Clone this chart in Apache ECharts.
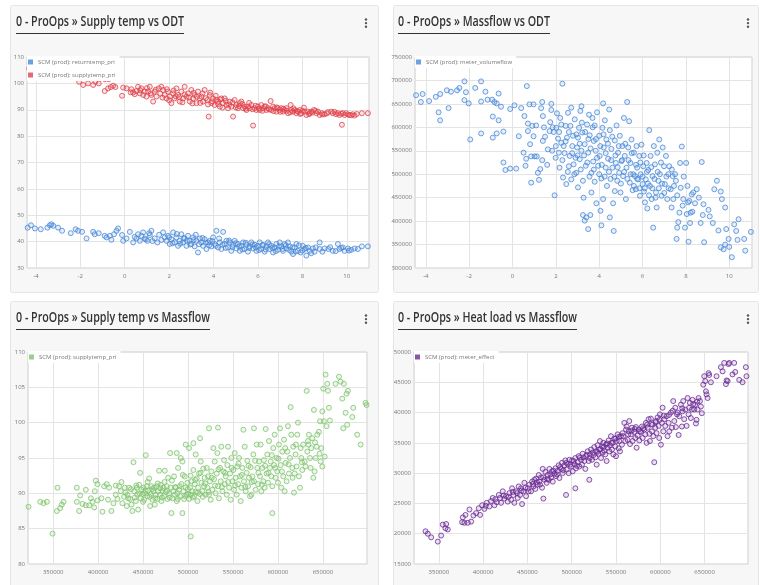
<!DOCTYPE html>
<html><head><meta charset="utf-8">
<script src="https://cdn.jsdelivr.net/npm/echarts@6/dist/echarts.min.js"></script>
<style>html,body{margin:0;padding:0;background:#fff}#c{width:760px;height:585px}</style>
</head><body><div id="c"></div>
<script>
// ---------- DATA ----------
const panelTitles = [
  '0 - ProOps \u00bb Supply temp vs ODT',
  '0 - ProOps \u00bb Massflow vs ODT',
  '0 - ProOps \u00bb Supply temp vs Massflow',
  '0 - ProOps \u00bb Heat load vs Massflow'
];
const nameReturn = 'SCM (prod): returntemp_pri';
const nameSupply = 'SCM (prod): supplytemp_pri';
const nameFlow = 'SCM (prod): meter_volumeflow';
const nameEffect = 'SCM (prod): meter_effect';

// Panel 1: [ODT, returntemp]
const returnVsOdt = [[-4.37,45.3],[-4.22,46.2],[-4.04,45],[-3.78,44.7],[-3.48,45.3],[-3.37,46.2],[-3.3,46.6],[-3.22,46],[-3.0,45.3],[-2.82,44.1],[-2.43,43.2],[-2.21,44.7],[-2.1,44.1],[-1.92,43.7],[-1.72,41.2],[-1.42,43.7],[-1.35,42.8],[-1.17,43.2],[-0.9,42.2],[-0.82,41.6],[-0.67,42.2],[-0.6,40.7],[-0.48,42.8],[-0.37,44.1],[-0.3,45],[-0.12,42.5],[-0.07,40.3],[0.08,41.2],[0.23,43.7],[0.38,39.7],[0.53,41.2],[0.6,42.8],[0.68,40.3],[0.75,42.2],[0.83,43.5],[0.9,41.2],[1.02,40.3],[1.13,42.5],[1.2,44.1],[1.35,41.2],[1.47,39.7],[1.73,43.5],[1.8,41.6],[1.88,40.3],[1.95,42.2],[2.03,39.1],[2.1,40.9],[2.18,43.5],[2.25,39.7],[2.33,41.6],[2.4,38.4],[2.48,40.3],[2.55,42.8],[2.63,39.7],[2.7,41.2],[2.78,38.4],[2.85,42.2],[2.93,40.3],[3.0,39.1],[3.08,41.6],[3.15,38.2],[3.23,40.3],[3.3,35.9],[3.38,41.2],[3.45,39.7],[3.53,38.4],[3.6,40.9],[3.68,37.2],[3.75,39.7],[3.83,40.3],[3.9,38.2],[3.98,41.6],[4.05,39.1],[4.13,44.1],[4.2,37.8],[4.28,39.7],[4.35,37.2],[4.43,43.7],[4.5,39.1],[4.58,40.3],[4.65,37.8],[4.73,39.7],[4.8,36.5],[4.88,38.8],[4.95,40.3],[5.03,37.4],[5.1,39.1],[5.18,36.5],[5.25,38.4],[5.33,39.7],[5.4,37.2],[5.48,38.8],[5.55,36.2],[5.63,38.2],[5.7,39.7],[5.78,37.4],[5.85,38.8],[5.93,36.5],[6.0,38.4],[6.08,39.7],[6.15,37.2],[6.23,38.8],[6.3,36.2],[6.38,38.2],[6.45,39.7],[6.53,37.2],[6.6,38.4],[6.68,35.9],[6.75,37.8],[6.83,39.1],[6.9,36.9],[6.98,39.7],[7.05,38.2],[7.13,36.5],[7.2,39.1],[7.28,37.4],[7.35,39.7],[7.43,38.2],[7.5,36.2],[7.58,35.3],[7.65,37.8],[7.73,39.1],[7.8,36.5],[7.92,35.9],[8.02,38.4],[8.1,37.2],[8.18,34.7],[8.25,37.8],[8.33,36.5],[8.47,37.4],[8.55,36.2],[8.78,39.7],[8.78,37.2],[9.0,37.4],[9.17,37.2],[9.37,36.5],[9.6,39.1],[9.67,37.2],[9.82,37.8],[9.9,36.5],[10.05,37.4],[10.2,36.9],[10.35,37.4],[10.68,38.2],[10.95,38.2],
[0.45,41.8],[0.95,40.8],[1.1,43.2],[1.25,40.2],[1.55,42.6],[1.65,40.6],[2.0,41.6],[2.15,39.4],[2.35,42.9],[2.5,39.2],[2.65,41.3],[2.8,40.4],[2.95,38.9],[3.1,40.6],[3.2,42.6],[3.35,39],[3.5,41.4],[3.65,39.6],[3.8,38.6],[3.95,40.2],[4.1,38.4],[4.25,41.2],[4.4,38.8],[4.55,37.6],[4.7,40.4],[4.85,37.9],[5.0,39.4],[5.15,38.2],[5.3,37],[5.45,39.6],[5.6,37.6],[5.75,38.9],[5.9,37.8],[6.05,36.8],[6.2,38.6],[6.35,37],[6.5,39],[6.65,37.6],[6.8,36.4],[6.95,38.2],[7.1,37.2],[7.25,38.6],[7.4,36.9],[7.55,37.8],[7.7,36.2],[7.85,38.6],[8.0,36.6],[8.15,37.6],[8.4,35.6],[8.6,37.8],[8.9,36.2],[9.25,37.9],[9.5,36.4],[9.75,37.6],[10.1,36.6],[10.5,37.2]];

// Panel 1: [ODT, supplytemp]
const supplyVsOdt = [[-4.3,105.6],[-4.0,104.9],[-3.7,106.1],[-3.4,105.2],[-3.1,104.4],[-2.8,104.8],[-2.6,103.6],[-2.4,102.9],[-2.2,103.4],[-2.05,100.6],[-1.87,99.4],[-1.65,100],[-1.42,99.4],[-1.32,100.6],[-1.17,100],[-1.08,101.9],[-0.9,101.6],[-0.72,101.6],[-0.9,97.1],[-0.75,98.1],[-0.63,98.6],[-0.52,99.1],[-0.42,98.6],[-0.12,95.3],[-0.07,98.4],[0.08,98.1],[0.27,96.6],[0.38,96.6],[0.53,97.1],[0.6,98.7],[0.68,96.2],[0.75,98.1],[0.83,95.6],[0.9,96.9],[0.98,95],[1.05,96.9],[1.13,98.7],[1.17,96.2],[1.28,93.1],[1.35,96.9],[1.43,95],[1.53,98.1],[1.65,98.7],[1.73,97.5],[1.8,95.6],[1.88,94.3],[1.95,96.9],[2.03,95],[2.1,92.5],[2.18,96.2],[2.25,94.3],[2.33,98.1],[2.4,95.6],[2.48,93.1],[2.55,96.9],[2.63,94.3],[2.7,98.7],[2.78,95],[2.85,96.2],[2.93,93.1],[3.0,97.5],[3.08,94.3],[3.15,95.6],[3.23,92.5],[3.3,96.9],[3.38,94.3],[3.45,95],[3.53,93.1],[3.6,97.5],[3.72,93.7],[3.78,87.4],[3.83,95.6],[3.9,92.5],[3.98,94.3],[4.05,91.8],[4.13,93.7],[4.2,93.1],[4.28,91.2],[4.35,94.3],[4.43,92.5],[4.5,94.3],[4.58,91.8],[4.65,90.6],[4.73,93.1],[4.8,91.2],[4.88,87.4],[4.95,93.7],[5.03,91.8],[5.1,90.6],[5.18,92.5],[5.25,93.1],[5.33,90.6],[5.4,91.2],[5.48,89.9],[5.55,91.2],[5.63,90.6],[5.78,84],[5.7,91.8],[5.85,90.6],[5.93,89.9],[6.0,91.2],[6.08,89.9],[6.15,91.8],[6.23,90.6],[6.3,91.2],[6.38,89.9],[6.45,90.6],[6.57,93.3],[6.6,89.9],[6.68,91.2],[6.75,90.6],[6.83,89.3],[6.9,90.6],[6.98,89.9],[7.05,90.6],[7.13,89.3],[7.2,89.9],[7.28,90.6],[7.35,88.7],[7.47,91.8],[7.5,89.9],[7.58,89.3],[7.65,89.9],[7.73,88.7],[7.8,89.3],[7.88,89.9],[7.95,88.7],[8.07,90.8],[8.1,89.3],[8.18,88],[8.25,89.3],[8.33,88.7],[8.4,89.3],[8.52,89.9],[8.63,88.7],[8.7,89.3],[8.78,88],[8.88,88.7],[9.0,88.3],[9.15,89.1],[9.3,89.3],[9.37,88.7],[9.52,88.3],[9.6,88.7],[9.67,88],[9.78,84.3],[9.82,88.7],[9.9,88],[9.97,88.7],[10.12,88],[10.27,88.3],[10.35,87.8],[10.68,88.7],[10.95,88.7],
[0.3,97.8],[0.45,95.9],[0.7,97.4],[1.0,98.2],[1.2,95.6],[1.4,97.6],[1.6,96.1],[1.7,94.6],[1.9,97.8],[2.0,93.6],[2.2,97.3],[2.3,95.1],[2.45,94.8],[2.6,92.8],[2.7,95.8],[2.9,94.6],[3.05,92.4],[3.1,96.4],[3.25,94.9],[3.4,92.6],[3.5,96.2],[3.65,94.4],[3.75,92],[3.85,96.5],[3.95,93.2],[4.1,95.3],[4.2,92.2],[4.3,93.9],[4.4,90.8],[4.55,93.4],[4.7,91.9],[4.85,92.8],[5.0,90.9],[5.15,91.4],[5.3,92.2],[5.45,90.4],[5.6,92.6],[5.75,90.2],[5.9,91.5],[6.05,90.4],[6.2,89.6],[6.35,91.3],[6.5,90.1],[6.7,89.5],[6.85,90.9],[7.0,89.2],[7.15,90.4],[7.3,89.6],[7.45,89],[7.6,90.5],[7.75,89.6],[7.9,88.4],[8.0,89.6],[8.3,88.3],[8.45,88.9],[8.6,89.6],[8.9,88.2],[9.1,88.6],[9.45,89.2],[9.75,88.5],[10.05,88.2],[10.2,87.9],[10.45,88.4]];

// Panel 2: [ODT, volumeflow]
const flowVsOdt = [[-4.45,668500],[-4.15,671000],[-4.23,654000],[-3.85,656000],[-3.54,665000],[-3.41,632000],[-3.34,615000],[-3.34,671000],[-3.03,679000],[-2.95,641000],[-2.84,676000],[-2.56,679000],[-2.45,684000],[-2.22,698000],[-2.22,658000],[-2.15,675000],[-2.02,651000],[-1.95,574000],[-1.72,684000],[-1.45,698000],[-1.45,655000],[-1.45,587000],[-1.25,676000],[-1.15,659000],[-0.94,659000],[-0.91,623000],[-0.91,578000],[-0.84,654000],[-0.73,651000],[-0.73,587000],[-0.64,672000],[-0.64,615000],[-0.53,644000],[-0.42,591000],[-0.42,525000],[-0.33,509000],[-0.11,512000],[-0.11,639000],[0.09,647000],[0.17,512000],[0.29,581000],[0.4,641000],[0.51,546000],[0.55,624000],[0.6,518000],[0.63,533000],[0.66,688000],[0.71,608000],[0.71,592000],[0.78,649000],[0.81,564000],[0.86,482000],[0.86,538000],[0.91,603000],[0.97,649000],[0.97,581000],[1.02,538000],[1.09,604000],[1.12,538000],[1.17,503000],[1.22,488000],[1.28,511000],[1.32,641000],[1.37,530000],[1.37,654000],[1.4,624000],[1.4,571000],[1.45,600000],[1.63,553000],[1.71,592000],[1.74,611000],[1.79,650000],[1.79,637000],[1.83,550000],[1.9,590000],[1.94,455000],[1.99,535000],[2.02,599000],[2.05,630000],[2.1,576000],[2.14,546000],[2.17,514000],[2.2,620000],[2.25,606000],[2.25,567000],[2.3,693000],[2.33,493000],[2.36,560000],[2.4,545000],[2.45,603000],[2.48,479000],[2.51,578000],[2.56,631000],[2.6,517000],[2.64,539000],[2.67,603000],[2.71,642000],[2.71,489000],[2.76,560000],[2.79,582000],[2.82,521000],[2.87,617000],[2.91,535000],[2.94,503000],[2.98,557000],[3.02,578000],[3.02,472000],[3.07,599000],[3.1,532000],[3.13,635000],[3.18,550000],[3.18,645000],[3.22,589000],[3.25,486000],[3.25,413000],[3.28,450000],[3.33,564000],[3.33,401000],[3.38,518000],[3.41,408000],[3.44,606000],[3.49,546000],[3.49,383000],[3.53,627000],[3.56,583000],[3.59,413000],[3.64,503000],[3.64,461000],[3.69,620000],[3.72,527000],[3.75,571000],[3.79,484000],[3.79,604000],[3.84,550000],[3.87,438000],[3.9,632000],[3.95,518000],[4.0,582000],[4.02,539000],[4.06,422000],[4.1,491000],[4.1,391000],[4.15,599000],[4.18,651000],[4.18,447000],[4.21,557000],[4.26,615000],[4.3,514000],[4.33,574000],[4.36,475000],[4.41,533000],[4.46,638000],[4.49,408000],[4.49,594000],[4.52,490000],[4.56,554000],[4.61,514000],[4.64,438000],[4.67,379000],[4.72,572000],[4.72,464000],[4.77,524000],[4.8,604000],[4.83,486000],[4.87,546000],[4.92,503000],[4.95,582000],[4.98,461000],[5.03,528000],[5.07,560000],[5.1,496000],[5.14,620000],[5.18,539000],[5.23,447000],[5.26,514000],[5.29,654000],[5.34,557000],[5.38,613000],[5.41,482000],[5.44,524000],[5.49,574000],[5.54,466000],[5.57,500000],[5.6,546000],[5.65,496000],[5.69,468000],[5.72,560000],[5.75,514000],[5.8,489000],[5.85,539000],[5.88,454000],[5.91,500000],[5.95,563000],[6.0,479000],[6.03,517000],[6.06,463000],[6.11,440000],[6.15,489000],[6.19,524000],[6.22,427000],[6.26,509000],[6.31,594000],[6.34,475000],[6.37,539000],[6.42,447000],[6.46,496000],[6.49,386000],[6.52,560000],[6.57,521000],[6.62,461000],[6.65,429000],[6.68,546000],[6.73,486000],[6.77,574000],[6.8,500000],[6.88,454000],[6.93,557000],[6.99,517000],[7.03,479000],[7.08,539000],[7.14,447000],[7.19,500000],[7.23,517000],[7.3,468000],[7.34,429000],[7.39,496000],[7.42,447000],[7.5,500000],[7.54,486000],[7.57,362000],[7.6,386000],[7.65,398000],[7.7,418000],[7.73,524000],[7.76,471000],[7.81,559000],[7.85,433000],[7.88,447000],[7.96,386000],[8.01,524000],[8.04,415000],[8.07,475000],[8.12,356000],[8.16,443000],[8.19,396000],[8.22,418000],[8.27,457000],[8.34,461000],[8.42,438000],[8.5,468000],[8.68,396000],[8.73,526000],[8.78,413000],[8.81,436000],[8.84,355000],[9.04,424000],[9.24,396000],[9.31,468000],[9.43,486000],[9.61,463000],[9.61,344000],[9.66,447000],[9.74,340000],[9.81,350000],[9.81,429000],[9.86,383000],[9.97,362000],[10.12,323000],[10.23,393000],[10.32,379000],[10.38,360000],[10.43,404000],[10.69,362000],[10.74,337000],[11.0,377000],
[1.5,580000],[1.6,520000],[1.85,600000],[2.0,560000],[2.15,590000],[2.3,530000],[2.45,570000],[2.55,505000],[2.6,590000],[2.75,545000],[2.85,500000],[2.95,585000],[3.0,540000],[3.1,565000],[3.15,510000],[3.2,610000],[3.3,540000],[3.35,590000],[3.45,525000],[3.5,575000],[3.55,495000],[3.6,555000],[3.7,600000],[3.75,510000],[3.85,575000],[3.9,535000],[4.0,500000],[4.05,560000],[4.12,520000],[4.2,585000],[4.25,495000],[4.3,545000],[4.4,565000],[4.45,505000],[4.55,530000],[4.6,580000],[4.7,495000],[4.75,540000],[4.85,515000],[4.9,560000],[5.0,480000],[5.05,530000],[5.15,505000],[5.2,565000],[5.3,490000],[5.35,530000],[5.45,500000],[5.5,545000],[5.6,475000],[5.7,520000],[5.75,490000],[5.85,470000],[5.9,525000],[6.0,495000],[6.05,540000],[6.1,470000],[6.2,505000],[6.25,480000],[6.3,455000],[6.4,515000],[6.45,470000],[6.55,490000],[6.6,450000],[6.7,505000],[6.75,470000],[6.85,525000],[6.9,480000],[7.0,460000],[7.1,495000],[7.2,470000],[7.35,510000],[7.45,475000],[7.6,455000],[7.9,495000],[8.1,440000],[8.3,420000],[8.6,450000],[9.1,410000],[9.5,380000],[10.0,345000]];

// Panel 3: [volumeflow, supplytemp]
const supplyVsFlow = [[322600,88.1],[335600,88.8],[339300,88.6],[343000,88.8],[349300,84.3],[354100,87.5],[354800,90.8],[357800,87.9],[359600,88.4],[361500,88.8],[376300,90.8],[376300,88.8],[378900,87.5],[380000,89.7],[382600,88.5],[386300,90.5],[386300,88.3],[390000,88.3],[391900,89.3],[393700,88.8],[395600,88.0],[396300,90.3],[397400,91.8],[399300,91.3],[399300,89.0],[403700,89.3],[404800,87.4],[406700,91.0],[409600,91.3],[411100,89.1],[412200,90.8],[414800,87.5],[417000,88.6],[419600,89.8],[419600,91.1],[421500,89.2],[423300,91.0],[425200,90.3],[425900,91.6],[427000,88.6],[428900,89.5],[429600,90.8],[431900,88.2],[432600,89.8],[434400,90.8],[435600,89.2],[437000,88.4],[438100,87.5],[439300,94.4],[440000,90.3],[441900,88.9],[443000,90.8],[443700,89.8],[444500,87.7],[445600,91.2],[446700,92.9],[447400,89.3],[448200,90.5],[449300,89.9],[450400,90.8],[451100,89.1],[451900,90.0],[453000,95.4],[454100,91.0],[454800,89.6],[455600,90.4],[456700,92.1],[457800,88.2],[458500,89.9],[459300,91.0],[460400,89.1],[461500,90.3],[462200,90.8],[463000,88.4],[464100,89.8],[465200,91.0],[465900,89.2],[466700,90.3],[467800,93.2],[468900,89.8],[469600,91.2],[470400,88.9],[471500,90.4],[472600,90.8],[473300,89.6],[474100,93.2],[475200,90.2],[476300,91.0],[477000,89.2],[477800,92.2],[478900,90.0],[480000,95.7],[480700,90.8],[481500,87.2],[482600,89.3],[483700,90.3],[484400,92.4],[485200,89.8],[486300,90.8],[487400,95.7],[487400,88.9],[488100,90.0],[488900,93.6],[490000,90.5],[491100,89.6],[491900,95.0],[492600,91.3],[493700,94.5],[493700,87.2],[494800,90.3],[495600,89.2],[496300,92.4],[497400,90.8],[497400,96.9],[498500,89.8],[499300,91.5],[500000,89.9],[501100,89.2],[501100,96.4],[502200,90.8],[503000,83.9],[503000,89.8],[503700,91.7],[504800,90.3],[505900,97.1],[505900,93.3],[506700,89.6],[507400,91.3],[508500,90.2],[508500,95.5],[509600,92.1],[510400,88.9],[511100,90.8],[512200,92.8],[513300,97.8],[513300,89.9],[514100,94.5],[514800,91.5],[515900,90.3],[517000,93.5],[517800,91.0],[518500,92.2],[519600,89.8],[520700,93.6],[521500,90.8],[522200,92.4],[523300,99.2],[523300,89.8],[524400,91.7],[525200,89.1],[525900,93.1],[527000,90.5],[528100,96.4],[528900,92.0],[529600,94.5],[530700,90.0],[531900,92.8],[532600,95.7],[533300,99.3],[533300,91.0],[534400,89.3],[535600,93.6],[536300,91.7],[537000,96.6],[538200,90.3],[539300,93.1],[540000,94.7],[540700,91.3],[541900,92.4],[543000,89.8],[543700,94.0],[544500,96.6],[545600,90.8],[546700,92.8],[547400,89.1],[548200,95.0],[549300,91.7],[550400,93.3],[551100,90.5],[551900,95.7],[553000,92.2],[554100,89.8],[554800,93.8],[555600,91.3],[556700,95.0],[557800,92.4],[558500,88.9],[559300,90.8],[560400,93.6],[561500,99.0],[562200,91.7],[563000,96.6],[564100,90.3],[565200,92.9],[565900,94.6],[566700,91.0],[567800,92.2],[568900,89.6],[569600,93.7],[570400,89.8],[571500,92.4],[572600,95.5],[573300,99.2],[573300,91.7],[575200,90.5],[576300,96.9],[577000,93.6],[577800,91.3],[578900,94.5],[580000,92.4],[580700,96.9],[581500,90.3],[582600,93.6],[583700,91.7],[584400,94.7],[585200,90.8],[586300,99.1],[587400,92.8],[588100,95.5],[588900,91.5],[590000,97.4],[591100,93.6],[591900,94.5],[592600,92.4],[593700,87.2],[593700,91.0],[594800,96.4],[595600,94.0],[596300,98.3],[597400,92.2],[598500,95.0],[599300,93.1],[600000,91.5],[601100,96.9],[602200,99.2],[603000,94.0],[603700,90.8],[604800,95.9],[605900,92.4],[606700,97.6],[607400,90.3],[608500,94.3],[609600,91.7],[610400,95.9],[611100,99.5],[612200,92.8],[613300,95.0],[614100,102.2],[614800,98.3],[615900,93.6],[617000,96.6],[617800,90.1],[618500,92.8],[619600,95.5],[620700,93.8],[621500,98.3],[622200,100.0],[623300,92.4],[624400,90.8],[625200,96.4],[625900,95.0],[627000,93.3],[628100,96.9],[629600,94.5],[630700,93.8],[631900,104.5],[632600,95.9],[633300,97.4],[634400,98.3],[635600,95.0],[636300,93.6],[637000,96.4],[638100,97.8],[639300,92.2],[640000,101.8],[640700,93.1],[641900,95.0],[643000,96.6],[643700,98.3],[645600,98.7],[646700,100.2],[647400,94.5],[648100,96.4],[649300,101.6],[649300,93.8],[650400,104.8],[651100,100.2],[651900,95.2],[652900,106.8],[654100,99.5],[654800,105.5],[655600,104.5],[656700,102.1],[657800,100.3],[664000,105.5],[667800,106.5],[669600,105.8],[671500,103.4],[672600,99.2],[673300,105.5],[675200,101.4],[676300,104.1],[677000,99.7],[677800,104.5],[682600,100.8],[683700,102.1],[688100,98.3],[691900,96.9],[697400,102.8],[698500,102.5],
[430500,90.1],[433500,89.3],[436500,90.6],[440800,89.4],[442400,91.1],[446000,90.0],[449900,88.8],[452800,90.4],[455000,91.6],[457300,89.5],[460000,90.6],[463600,89.3],[466300,91.4],[469000,90.7],[471000,89.4],[473800,91.6],[476800,90.4],[479500,89.4],[482000,91.8],[485800,90.9],[488600,89.2],[490800,91.0],[494200,92.6],[496900,89.6],[499800,90.6],[502800,92.5],[505300,89.4],[508000,91.9],[510800,90.1],[513800,92.9],[516400,89.5],[519000,91.4],[522800,90.2],[526300,92.2],[530000,91.1],[533800,93.4],[537600,90.9],[541200,92.9],[544800,91.6],[548600,93.6],[552400,91.1],[556100,94.2],[559800,92.6],[563600,90.9],[567200,93.9],[571000,91.6],[574600,94.6],[578200,92.9],[582000,91.2],[585700,93.9],[589400,92.9],[593100,95.4],[597000,93.6],[600600,94.9],[604400,93.1],[608000,96.4],[611800,94.1],[616200,92.2],[620000,96.9],[626600,94.4],[633800,96.9],[641200,97.2],[646200,95.6]];

// Panel 4: [volumeflow, meter_effect]
const heatVsFlow = [[321800,18900],[335000,20400],[337600,20000],[341400,19400],[348900,18700],[352600,19700],[354500,21500],[357500,20900],[358300,21600],[360100,20700],[376300,21900],[377100,22700],[378900,21800],[380100,23100],[382700,21800],[384600,24000],[386500,22000],[389100,23000],[392100,23400],[395100,24200],[396600,23100],[398900,24700],[401500,24100],[404100,25100],[407100,24500],[410900,25900],[412800,24700],[415400,25200],[417700,26400],[420300,25100],[422200,27000],[424100,25800],[425900,26200],[427800,25300],[429700,26700],[431600,25600],[432700,27500],[434200,26400],[435300,25100],[437200,27000],[439100,25900],[440200,27800],[441700,26400],[442800,27500],[444000,24900],[445500,27000],[446600,28400],[448500,26200],[450400,27500],[452200,28100],[454100,27000],[455300,28600],[456800,27800],[457900,28900],[459000,27400],[459800,29100],[461600,28100],[462800,29700],[463500,28600],[465400,29300],[466500,27600],[467300,30700],[468000,25800],[469200,28900],[470300,30200],[471800,28400],[473000,29700],[474100,28900],[474800,30700],[476700,29300],[477800,30300],[478600,28600],[480400,29900],[481600,30800],[482300,29500],[484200,30400],[485300,31300],[486100,29200],[488000,30700],[489100,31700],[489800,30000],[491700,31300],[492800,32100],[493600,26400],[494300,30600],[495500,31500],[496600,30000],[497400,32200],[499200,31100],[500400,32100],[501100,30300],[503000,31500],[504100,27500],[504100,32500],[504900,30800],[506800,31800],[507900,32800],[508600,31100],[510500,32200],[511600,31400],[512400,33200],[514300,32000],[515400,30700],[516200,32800],[518000,33600],[519200,32000],[519900,28900],[520700,33100],[521800,33900],[522900,32200],[523700,33400],[525500,34300],[526700,32600],[527400,33600],[528200,31400],[529300,34600],[530400,33200],[531200,33900],[531900,35300],[533100,32500],[534200,34400],[534900,33400],[535700,35000],[536800,33700],[537900,33100],[538700,34700],[539400,32000],[540600,34200],[541700,35400],[542500,33600],[543200,34600],[544300,36100],[545500,33900],[546200,35000],[547000,33100],[548100,35700],[549200,34400],[550000,32800],[550700,35300],[551800,36400],[553000,34100],[553700,35300],[554500,33600],[555600,36100],[556700,34700],[557500,36600],[559400,38300],[560500,35300],[561300,37200],[562000,37700],[563100,35500],[564300,36900],[565000,38600],[565800,34800],[566900,36400],[568000,37500],[568800,35300],[570600,36800],[571800,35800],[572500,37600],[573300,34200],[574400,36200],[575500,37200],[576300,35400],[578200,36800],[579300,37700],[580100,35800],[581900,37200],[583100,36400],[583800,38300],[584600,35000],[585700,37500],[586800,38900],[587600,36500],[588300,35300],[589400,39000],[590600,36900],[591300,38000],[592100,36100],[593200,31800],[594300,37500],[595100,38600],[595800,36600],[597000,39200],[598100,37800],[598800,35800],[599600,39700],[600700,34700],[601800,38300],[602600,40800],[603400,36900],[604500,38900],[605600,37800],[607100,39400],[608200,36100],[609400,38300],[610100,36900],[612000,40000],[613100,37500],[614600,41900],[615800,38600],[616900,40800],[617600,37600],[619500,40000],[620700,36300],[621400,39400],[623300,41300],[624400,37700],[625200,40200],[625900,41900],[627000,38900],[628200,40500],[629700,37800],[630800,42400],[631900,39700],[633400,41600],[634500,39100],[635700,40500],[636400,42100],[638300,40500],[639400,41300],[640200,38200],[640900,38800],[642100,40500],[643200,42400],[644700,41900],[645800,41000],[646900,39900],[648500,44600],[649600,46000],[650700,45200],[651500,43500],[652200,43000],[653400,42400],[654500,46500],[655200,46200],[657100,45000],[663500,46000],[668400,47500],[670300,46800],[672200,48200],[674100,44700],[674800,45300],[676000,45200],[677100,48000],[677800,48200],[681500,46300],[683400,48200],[684600,46700],[689100,45400],[692800,45000],[696600,47500],[697300,46000],
[403000,24600],[409000,25400],[414000,25700],[419000,25900],[423000,26300],[428700,26100],[433500,26900],[438200,26700],[443300,27100],[447600,27600],[451300,27000],[456000,28200],[460700,28500],[464300,28100],[467900,29300],[472500,29000],[476000,29800],[479500,30400],[483300,29800],[487000,31000],[490500,30500],[493900,31700],[498300,31400],[502200,32000],[505900,31200],[509500,32600],[513300,32600],[517100,33000],[520300,32500],[524700,33000],[528900,33500],[532400,34000],[536100,34300],[539900,34900],[544800,35000],[549500,35700],[553400,36000],[558000,36100],[563800,36400],[567500,37000],[571100,37300],[576900,36900],[580600,37400],[585100,38000],[589900,38100],[594800,38400],[599200,38800],[604000,39500],[609800,39600],[614000,40300],[618800,39700],[624800,40700],[632600,40800],[637100,41400],[641600,41800]];

// ---------- LAYOUT / STYLE ----------
const COL = {
  blue:   ['#4a8ad8','rgba(74,138,216,0.18)'],
  red:    ['#e0444e','rgba(224,68,78,0.18)'],
  green:  ['#80c46e','rgba(128,196,110,0.18)'],
  purple: ['#6b2c95','rgba(107,44,149,0.18)']
};
const gridBoxes = [
  {left:27, top:57, width:342, height:211},
  {left:415, top:57, width:337, height:211},
  {left:28, top:352, width:339, height:212},
  {left:414, top:352, width:334, height:212}
];
const cards = [
  {x:10, y:5, w:368, h:287},
  {x:393, y:5, w:365, h:287},
  {x:10, y:301, w:368, h:292},
  {x:393, y:301, w:365, h:292}
];
const titlePos = [[16,15,168],[398,15,152],[16,311,194],[398,311,179]];
const dotX = [366, 748, 366, 748];
const FONT = "'Open Sans', 'Liberation Sans', sans-serif";

const lbl = {fontSize:6, color:'#777', fontFamily:FONT, formatter:function(v){ return String(v); }};
function xAx(i, min, max) {
  return {gridIndex:i, type:'value', min:min, max:max, splitNumber:8,
    axisLine:{show:false}, axisTick:{show:false},
    axisLabel:Object.assign({margin:5, showMinLabel:false, showMaxLabel:false}, lbl),
    splitLine:{show:true, lineStyle:{color:'#e4e4e4', width:1}}};
}
function yAx(i, min, max, interval) {
  return {gridIndex:i, type:'value', min:min, max:max, interval:interval,
    axisLine:{show:false}, axisTick:{show:false},
    axisLabel:Object.assign({margin:3}, lbl),
    splitLine:{show:true, lineStyle:{color:'#e4e4e4', width:1}}};
}
function sc(name, i, data, c) {
  return {type:'scatter', name:name, xAxisIndex:i, yAxisIndex:i, data:data,
    symbol:'circle', symbolSize:5, silent:true,
    itemStyle:{color:c[1], borderColor:c[0], borderWidth:1}};
}
function lg(left, top, items) {
  return {left:left, top:top, orient:'vertical', icon:'rect', itemWidth:5, itemHeight:5,
    itemGap:7, padding:[3,4,3,1], backgroundColor:'#fff', selectedMode:false, z:10,
    textStyle:{fontSize:6, color:'#777', fontFamily:FONT},
    data: items.map(function(it){ return {name:it[0], itemStyle:{color:it[1], borderWidth:0}}; })};
}

// measure titles
const mctx = document.createElement('canvas').getContext('2d');
const TFONT = "600 14px 'Open Sans'";
mctx.font = TFONT;

const graphics = [];
cards.forEach(function(c){
  graphics.push({type:'rect', z:-100, silent:true, shape:{x:c.x+0.5, y:c.y+0.5, width:c.w, height:c.h, r:2},
    style:{fill:'#f7f7f7', stroke:'#e5e5e5', lineWidth:1}});
});
panelTitles.forEach(function(t, i){
  const p = titlePos[i];
  const w = mctx.measureText(t).width || p[2];
  const s = p[2] / w;
  graphics.push({type:'text', x:p[0], y:p[1], scaleX:s, z:100, silent:true,
    style:{text:t, fontFamily:"'Open Sans'", fontWeight:600, fontSize:14, fill:'#333', verticalAlign:'top', align:'left'}});
  graphics.push({type:'line', z:100, silent:true, shape:{x1:p[0], y1:p[1]+18.5, x2:p[0]+p[2], y2:p[1]+18.5},
    style:{stroke:'#333', lineWidth:1}});
  [0,3.6,7.2].forEach(function(d){
    graphics.push({type:'circle', z:100, silent:true, shape:{cx:dotX[i], cy:p[1]+4.5+d, r:1.2}, style:{fill:'#555'}});
  });
});

const chart = echarts.init(document.getElementById('c'), null, {renderer:'canvas'});
chart.setOption({
  animation:false,
  backgroundColor:'#fff',
  graphic:{elements:graphics},
  grid: gridBoxes.map(function(g){ return Object.assign({show:true, backgroundColor:'#fff', borderColor:'#cfcfcf', borderWidth:1, containLabel:false}, g); }),
  xAxis:[xAx(0,-4.4,11), xAx(1,-4.5,11.05), xAx(2,322000,699000), xAx(3,322000,699000)],
  yAxis:[yAx(0,30,110,10), yAx(1,300000,750000,50000), yAx(2,80,110,5), yAx(3,15000,50000,5000)],
  legend:[
    lg(27,56,[[nameReturn,COL.blue[0]],[nameSupply,COL.red[0]]]),
    lg(415,56,[[nameFlow,COL.blue[0]]]),
    lg(28,351,[[nameSupply,COL.green[0]]]),
    lg(414,351,[[nameEffect,COL.purple[0]]])
  ],
  series:[
    sc(nameReturn,0,returnVsOdt,COL.blue),
    sc(nameSupply,0,supplyVsOdt,COL.red),
    sc(nameFlow,1,flowVsOdt,COL.blue),
    sc(nameSupply,2,supplyVsFlow,COL.green),
    sc(nameEffect,3,heatVsFlow,COL.purple)
  ]
});
</script></body></html>
